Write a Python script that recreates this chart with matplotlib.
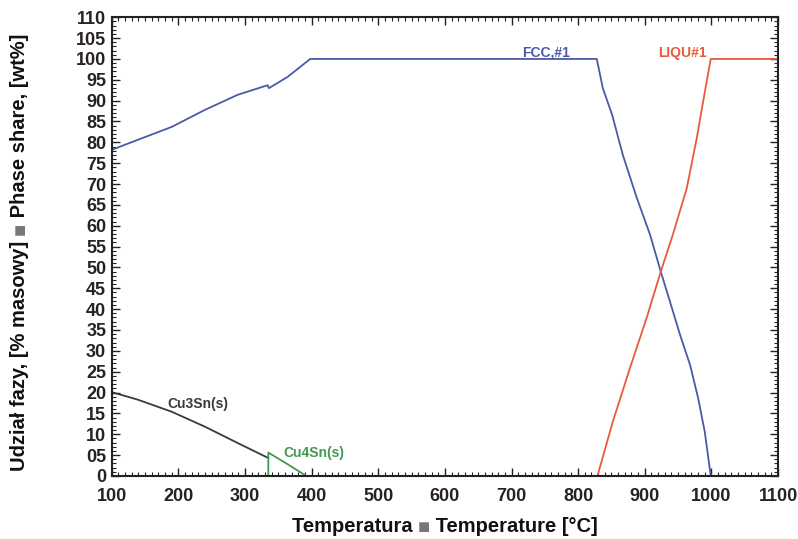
import numpy as np
import matplotlib.pyplot as plt
from matplotlib.ticker import MultipleLocator, FixedLocator

# Phase fractions (temperature in C, share in wt%)
fcc_t = [100, 139, 190, 240, 289, 334, 336, 364, 390, 398,
         828, 837, 851, 867, 888, 908, 924, 938, 953, 968, 980, 990, 999]
fcc_y = [78.2, 80.6, 83.7, 87.8, 91.4, 93.7, 93.0, 95.7, 99.0, 100,
         100, 93, 86.6, 77, 66.7, 57.8, 49, 41.7, 33.8, 26.6, 18.7, 10.6, 0]

liq_t = [829, 852, 878, 903, 924, 942, 963, 978, 990, 999, 1100]
liq_y = [0, 13, 26, 38, 49, 57.8, 69, 81, 92, 100, 100]

cu3sn_t = [100, 139, 190, 240, 289, 335]
cu3sn_y = [20.1, 18.3, 15.4, 11.8, 7.9, 4.3]

cu4sn_t = [335, 335, 362, 392]
cu4sn_y = [0, 5.6, 3.0, 0]

yticks = list(range(0, 111, 5))
ylabels = ['0', '05'] + [str(v) for v in yticks[2:]]

plt.rcParams['font.family'] = ['Liberation Sans', 'DejaVu Sans']
plt.rcParams['font.weight'] = 'bold'

fig = plt.figure(figsize=(7.98, 5.39), dpi=100)
ax = fig.add_axes([0.140, 0.117, 0.835, 0.851])

ax.plot(fcc_t, fcc_y, color='#4b5aa8', lw=1.3)
ax.plot(liq_t, liq_y, color='#e85a3c', lw=1.3)
ax.plot(cu3sn_t, cu3sn_y, color='#3a3a3a', lw=1.3)
ax.plot(cu4sn_t, cu4sn_y, color='#3f9a50', lw=1.3)

ax.text(752, 101.5, 'FCC,#1', color='#4b5aa8', fontsize=10, ha='center', va='center')
ax.text(957, 101.5, 'LIQU#1', color='#e85a3c', fontsize=10, ha='center', va='center')
ax.text(229, 17.2, 'Cu3Sn(s)', color='#3a3a3a', fontsize=10, ha='center', va='center')
ax.text(403, 5.4, 'Cu4Sn(s)', color='#3f9a50', fontsize=10, ha='center', va='center')

ax.set_xlim(100, 1100)
ax.set_ylim(0, 110)
ax.xaxis.set_major_locator(MultipleLocator(100))
ax.xaxis.set_minor_locator(MultipleLocator(10))
ax.yaxis.set_major_locator(FixedLocator(yticks))
ax.set_yticklabels(ylabels)
ax.yaxis.set_minor_locator(MultipleLocator(1))
ax.tick_params(which='both', direction='in', top=True, right=True, colors='#222222',
               labelcolor='#2a2222', labelsize=13)
ax.tick_params(which='major', length=6, width=1)
ax.tick_params(which='minor', length=3, width=0.8)
ax.tick_params(axis='x', pad=9)
ax.tick_params(axis='y', pad=4)
for s in ax.spines.values():
    s.set_linewidth(1.5)
    s.set_color('#222222')

# axis titles with a grey square between the Polish and English parts
fig.canvas.draw()
r = fig.canvas.get_renderer()
kw = dict(fontsize=14.5, fontweight='bold')


def label_parts(parts, x, y, rot):
    objs = [fig.text(0, 0, p, color=c, rotation=rot, **kw) for p, c in parts]
    sizes = []
    for o in objs:
        bb = o.get_window_extent(r)
        sizes.append(bb.height if rot else bb.width)
    total = sum(sizes)
    pos = -total / 2
    W, H = fig.bbox.width, fig.bbox.height
    for o, s in zip(objs, sizes):
        c = pos + s / 2
        if rot:
            o.set_position((x, y + c / H))
        else:
            o.set_position((x + c / W, y))
        o.set_ha('center')
        o.set_va('center')
        pos += s


label_parts([('Temperatura ', '#111111'), ('■', '#777777'), (' Temperature [°C]', '#111111')],
            445 / 798, 1 - 527 / 539, 0)
label_parts([('Udział fazy, [% masowy] ', '#111111'), ('■', '#777777'), (' Phase share, [wt%]', '#111111')],
            20 / 798, 1 - 252 / 539, 90)

fig.savefig('out.png', dpi=100)
